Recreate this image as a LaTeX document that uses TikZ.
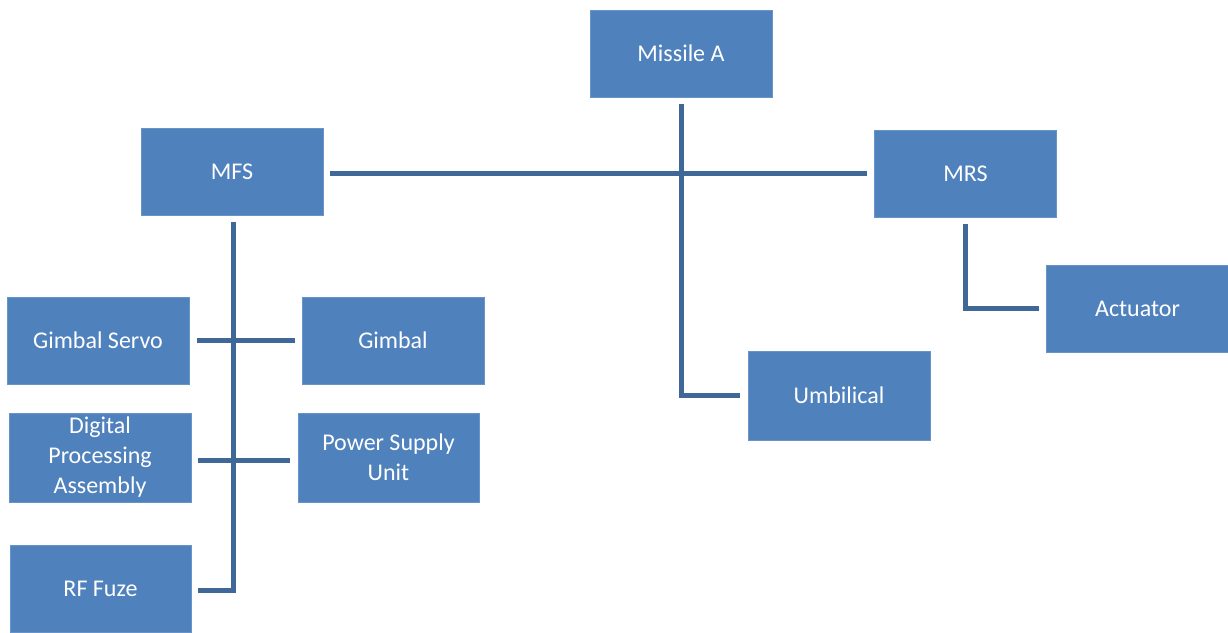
\documentclass[tikz,border=0pt]{standalone}
\usepackage{fontspec}
\setmainfont{Carlito}
\usetikzlibrary{calc}
\definecolor{boxfill}{HTML}{4F81BD}
\definecolor{linecol}{HTML}{3F6899}
\tikzset{
  blk/.style={fill=boxfill, draw=boxfill!85!white, line width=0.8pt, text=white, align=center,
    font=\fontsize{24}{30}\selectfont, inner sep=0pt, minimum width=182pt, minimum height=87pt},
  conn/.style={draw=linecol, line width=5pt}
}
\begin{document}
\begin{tikzpicture}[x=1pt,y=-1pt]
\useasboundingbox (0,0) rectangle (1228,632);
\node[blk] (missile) at (681,53.5) {Missile A};
\node[blk] (mfs) at (232,171.5) {MFS};
\node[blk] (mrs) at (965.5,173.5) {MRS};
\node[blk] (act) at (1137.5,308.5) {Actuator};
\node[blk, minimum height=89pt] (umb) at (839,395.5) {Umbilical};
\node[blk] (gs) at (98,340.5) {Gimbal Servo};
\node[blk] (gim) at (393,340.5) {Gimbal};
\node[blk, minimum height=89pt] (dpa) at (100,457.5) {Digital\\Processing\\Assembly};
\node[blk, minimum height=89pt, minimum width=181pt] (psu) at (388.5,457.5) {Power Supply\\Unit};
\node[blk, minimum width=181pt] (rf) at (100.5,588.5) {RF Fuze};
% connectors
\draw[conn] ($(missile.south)+(0,7)$) |- ($(umb.west)+(-8,0)$);
\draw[conn] ($(mfs.east)+(7,1.5)$) -- ($(mrs.west)+(-7,-0.5)$);
\draw[conn] ($(mfs.south)+(1,7)$) |- ($(rf.east)+(7,1.5)$);
\draw[conn] ($(gs.east)+(8,0)$) -- ($(gim.west)+(-7,0)$);
\draw[conn] ($(dpa.east)+(7,3)$) -- ($(psu.west)+(-8,3)$);
\draw[conn] ($(mrs.south)+(0,7)$) |- ($(act.west)+(-7,0)$);
\end{tikzpicture}
\end{document}
